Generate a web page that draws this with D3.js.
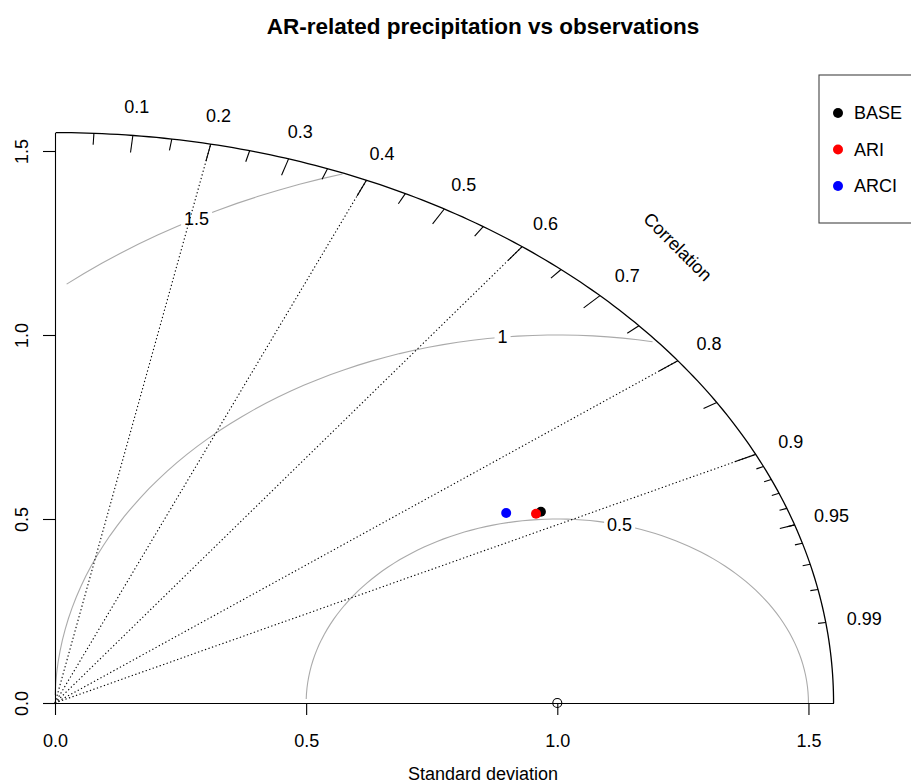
<!DOCTYPE html>
<html lang="en">
<head>
    <meta charset="UTF-8">
    <title>AR-related precipitation vs observations</title>
    <style>
        body {
            margin: 0;
            background: #fff;
        }

        svg {
            display: block;
            font-family: "Liberation Sans", Arial, Helvetica, sans-serif;
        }

        .axis path,
        .axis line {
            stroke: #000;
            stroke-width: 1.1;
        }

        .axis text {
            font-size: 18px;
            fill: #000;
        }
    </style>
</head>
<body>

<svg id="chart"></svg>

<script src="https://d3js.org/d3.v7.min.js"></script>
<script>
    // Taylor diagram data (normalised standard deviation and correlation)
    const models = ["BASE", "ARI", "ARCI"];
    const modelSd = [1.098, 1.087, 1.036];
    const modelCor = [0.881, 0.881, 0.867];
    const modelColors = ["#000000", "#ff0000", "#0000ff"];

    const refSd = 1;
    const maxSd = 1.55;
    const sdTicks = [0, 0.5, 1, 1.5];
    const gammas = [0.5, 1, 1.5];
    const corrLines = [0.2, 0.4, 0.6, 0.8, 0.9];
    const corrLabels = [0.1, 0.2, 0.3, 0.4, 0.5, 0.6, 0.7, 0.8, 0.9, 0.95, 0.99];
    const bigTicks = [0.1, 0.2, 0.3, 0.4, 0.5, 0.6, 0.7, 0.8, 0.9];
    const medTicks = [0.05, 0.15, 0.25, 0.35, 0.45, 0.55, 0.65, 0.75, 0.85, 0.95];
    const smallTicks = [0.91, 0.92, 0.93, 0.94, 0.95, 0.96, 0.97, 0.98, 0.99];

    const width = 911;
    const height = 783;

    const svg = d3.select("#chart")
        .attr("width", width)
        .attr("height", height);

    // x and y use different pixel sizes, like the original device
    const x = d3.scaleLinear().domain([0, maxSd]).range([55, 55 + maxSd * 502.3]);
    const y = d3.scaleLinear().domain([0, maxSd]).range([703, 703 - maxSd * 368]);

    // point at radius r, correlation c
    const polar = (r, c) => [x(r * c), y(r * Math.sqrt(1 - c * c))];

    const line = d3.line().x(d => x(d[0])).y(d => y(d[1]));

    // title
    svg.append("text")
        .attr("x", 483)
        .attr("y", 34)
        .attr("text-anchor", "middle")
        .style("font-size", "22.5px")
        .style("font-weight", "bold")
        .text("AR-related precipitation vs observations");

    // RMS difference arcs around the reference point
    const step = 0.03;
    const gammaG = svg.append("g");
    gammas.forEach((g, gi) => {
        const pts = d3.range(0, Math.PI, step)
            .map(a => [refSd + g * Math.cos(a), g * Math.sin(a)])
            .filter(p => p[0] >= 0 && p[0] * p[0] + p[1] * p[1] <= maxSd * maxSd);
        gammaG.append("path")
            .attr("d", line(pts))
            .attr("fill", "none")
            .attr("stroke", "#aaaaaa")
            .attr("stroke-width", 1.1);

        const idx = Math.floor(45 + gi * 25 / (gammas.length - 1));
        const a = (idx - 1) * step;
        const lx = x(refSd + g * Math.cos(a));
        const ly = y(g * Math.sin(a));
        const t = gammaG.append("text")
            .attr("x", lx)
            .attr("y", ly)
            .attr("dy", "0.35em")
            .attr("text-anchor", "middle")
            .style("font-size", "18px")
            .text(g);
        const bb = t.node().getBBox();
        gammaG.insert("rect", "text:last-of-type")
            .attr("x", bb.x - 3)
            .attr("y", bb.y)
            .attr("width", bb.width + 6)
            .attr("height", bb.height)
            .attr("fill", "#fff");
    });

    // dotted correlation rays
    svg.append("g")
        .selectAll("line")
        .data(corrLines)
        .join("line")
        .attr("x1", x(0))
        .attr("y1", y(0))
        .attr("x2", d => polar(maxSd, d)[0])
        .attr("y2", d => polar(maxSd, d)[1])
        .attr("stroke", "#000")
        .attr("stroke-width", 1.1)
        .attr("stroke-dasharray", "1.3,2.4");

    // outer correlation arc
    const arcPts = d3.range(0, Math.PI / 2 + 0.005, 0.01)
        .map(a => [maxSd * Math.cos(Math.min(a, Math.PI / 2)), maxSd * Math.sin(Math.min(a, Math.PI / 2))]);
    svg.append("path")
        .attr("d", line(arcPts))
        .attr("fill", "none")
        .attr("stroke", "#000")
        .attr("stroke-width", 1.3);

    // ticks on the arc
    const tickSets = [[bigTicks, 0.97], [medTicks, 0.98], [smallTicks, 0.99]];
    tickSets.forEach(([ticks, inner]) => {
        svg.append("g")
            .selectAll("line")
            .data(ticks)
            .join("line")
            .attr("x1", d => polar(maxSd, d)[0])
            .attr("y1", d => polar(maxSd, d)[1])
            .attr("x2", d => polar(maxSd * inner, d)[0])
            .attr("y2", d => polar(maxSd * inner, d)[1])
            .attr("stroke", "#000")
            .attr("stroke-width", 1.1);
    });

    // correlation labels
    svg.append("g")
        .selectAll("text")
        .data(corrLabels)
        .join("text")
        .attr("x", d => polar(maxSd * 1.05, d)[0])
        .attr("y", d => polar(maxSd * 1.05, d)[1])
        .attr("dy", "0.35em")
        .attr("text-anchor", "middle")
        .style("font-size", "18px")
        .text(d => d);

    const [cx, cy] = [x(maxSd * 0.8), y(maxSd * 0.8)];
    svg.append("text")
        .attr("transform", `translate(${cx},${cy}) rotate(45)`)
        .attr("dy", "0.35em")
        .attr("text-anchor", "middle")
        .style("font-size", "18px")
        .text("Correlation");

    // axes
    svg.append("g")
        .attr("class", "axis")
        .attr("transform", `translate(0,${y(0)})`)
        .call(d3.axisBottom(x).tickValues(sdTicks).tickSize(12).tickSizeOuter(0)
            .tickPadding(19).tickFormat(d3.format(".1f")));

    const yAxis = svg.append("g")
        .attr("class", "axis")
        .attr("transform", `translate(${x(0)},0)`)
        .call(d3.axisLeft(y).tickValues(sdTicks).tickSize(12).tickSizeOuter(0)
            .tickFormat(d3.format(".1f")));
    yAxis.selectAll(".tick text")
        .attr("transform", "rotate(-90)")
        .attr("x", 0)
        .attr("y", -27)
        .attr("dy", 0)
        .attr("text-anchor", "middle");

    svg.append("text")
        .attr("x", 483)
        .attr("y", 780)
        .attr("text-anchor", "middle")
        .style("font-size", "18px")
        .text("Standard deviation");

    // reference point
    svg.append("circle")
        .attr("cx", x(refSd))
        .attr("cy", y(0))
        .attr("r", 4.5)
        .attr("fill", "none")
        .attr("stroke", "#000")
        .attr("stroke-width", 1.1);

    // model points
    svg.append("g")
        .selectAll("circle")
        .data(models)
        .join("circle")
        .attr("cx", (d, i) => polar(modelSd[i], modelCor[i])[0])
        .attr("cy", (d, i) => polar(modelSd[i], modelCor[i])[1])
        .attr("r", 5)
        .attr("fill", (d, i) => modelColors[i]);

    // legend
    const legend = svg.append("g").attr("transform", "translate(819,75)");
    legend.append("rect")
        .attr("width", 120)
        .attr("height", 148)
        .attr("fill", "#fff")
        .attr("stroke", "#444")
        .attr("stroke-width", 1.1);
    const items = legend.selectAll("g")
        .data(models)
        .join("g")
        .attr("transform", (d, i) => `translate(0,${38 + i * 36.5})`);
    items.append("circle")
        .attr("cx", 19)
        .attr("r", 5)
        .attr("fill", (d, i) => modelColors[i]);
    items.append("text")
        .attr("x", 35)
        .attr("dy", "0.35em")
        .style("font-size", "18px")
        .text(d => d);
</script>

</body>
</html>
